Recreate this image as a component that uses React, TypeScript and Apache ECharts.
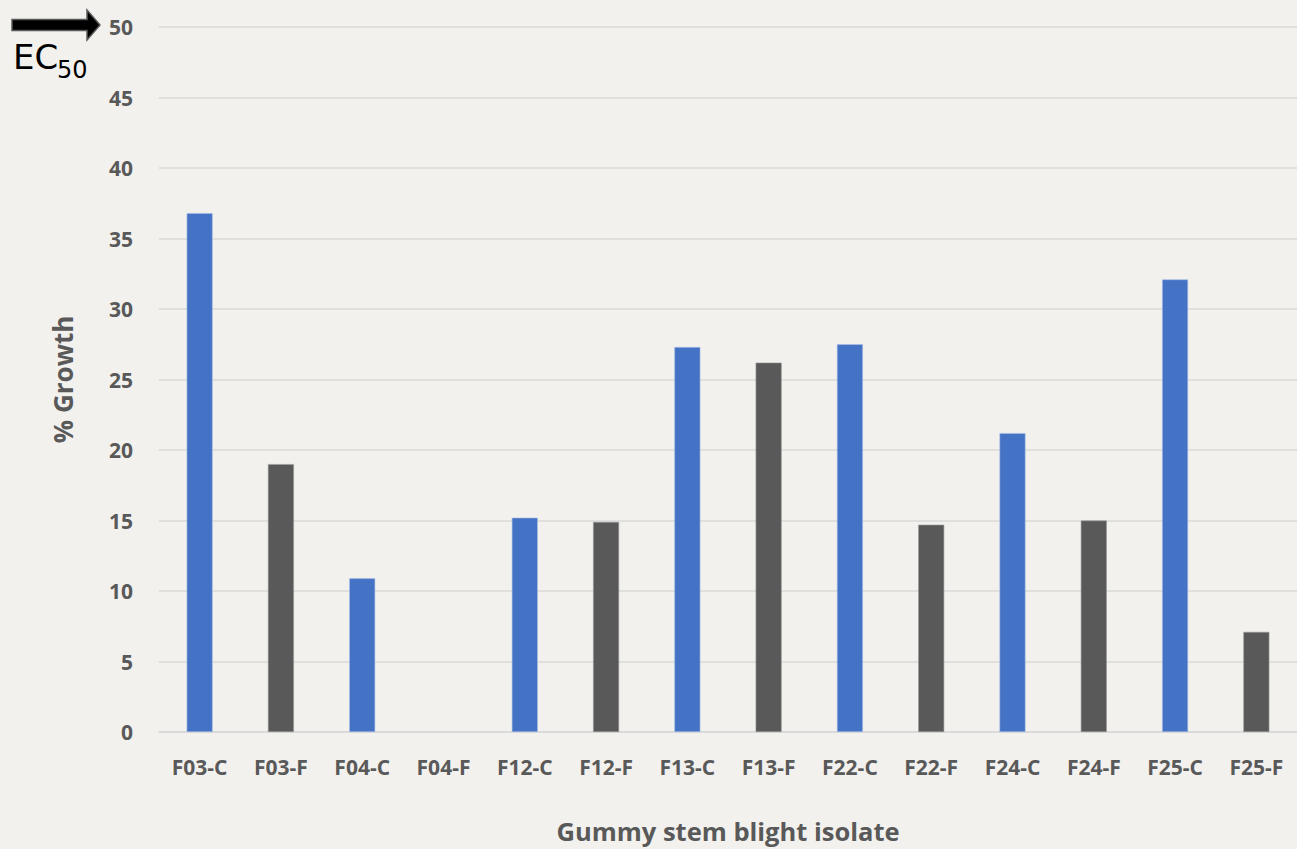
import React, { useEffect, useRef } from "react";
import * as echarts from "echarts";

const categories = ["F03-C", "F03-F", "F04-C", "F04-F", "F12-C", "F12-F", "F13-C", "F13-F", "F22-C", "F22-F", "F24-C", "F24-F", "F25-C", "F25-F"];
const growth = [36.8, 19.0, 10.9, 0, 15.2, 14.9, 27.3, 26.2, 27.5, 14.7, 21.2, 15.0, 32.1, 7.1];
const isControl = [true, false, true, false, true, false, true, false, true, false, true, false, true, false];
const yTicks = { min: 0, max: 50, interval: 5 };

const BLUE = "#4472C4";
const GRAY = "#595959";
const TEXT = "#595959";
const FONT = "'Open Sans', sans-serif";

export default function App() {
  const ref = useRef<HTMLDivElement>(null);
  useEffect(() => {
    document.body.style.margin = "0";
    const chart = echarts.init(ref.current!, null, { renderer: "svg" });
    chart.setOption({
      animation: false,
      backgroundColor: "#F2F1EE",
      grid: { left: 159, top: 27, width: 1143, height: 707, containLabel: false },
      xAxis: {
        type: "category",
        data: categories,
        name: "Gummy stem blight isolate",
        nameLocation: "middle",
        nameGap: 86,
        nameTextStyle: { color: TEXT, fontFamily: FONT, fontWeight: "bold", fontSize: 25.5 },
        axisLine: { lineStyle: { color: "#D9D9D9", width: 1.5 } },
        axisTick: { show: false },
        axisLabel: { color: TEXT, fontFamily: FONT, fontWeight: "bold", fontSize: 21, margin: 24 },
      },
      yAxis: {
        type: "value",
        min: yTicks.min,
        max: yTicks.max,
        interval: yTicks.interval,
        name: "% Growth",
        nameLocation: "middle",
        nameGap: 83,
        nameRotate: 90,
        nameTextStyle: { color: TEXT, fontFamily: FONT, fontWeight: "bold", fontSize: 26 },
        axisLine: { show: false },
        axisTick: { show: false },
        axisLabel: { color: TEXT, fontFamily: FONT, fontWeight: "bold", fontSize: 21, margin: 26 },
        splitLine: { lineStyle: { color: "#D9D9D9", width: 1.5 } },
      },
      series: [
        {
          type: "bar",
          barWidth: 26,
          data: growth.map((v, i) => ({
            value: v,
            itemStyle: {
              color: isControl[i] ? BLUE : GRAY,
              borderColor: isControl[i] ? "#A9BEE6" : "#9A9A9A",
              borderWidth: v > 0 ? 0.6 : 0,
            },
          })),
        },
      ],
      graphic: [
        {
          type: "polygon",
          shape: {
            points: [
              [12, 19.5],
              [87, 19.5],
              [87, 10],
              [100, 25],
              [87, 40],
              [87, 30.5],
              [12, 30.5],
            ],
          },
          style: { fill: "#000", stroke: "#5a5a5a", lineWidth: 1.5 },
        },
        {
          type: "text",
          x: 13,
          y: 40,
          style: { text: "EC", fill: "#000", font: "34px 'DejaVu Sans', sans-serif" },
        },
        {
          type: "text",
          x: 57,
          y: 58,
          style: { text: "50", fill: "#000", font: "24px 'DejaVu Sans', sans-serif" },
        },
      ],
    });
    return () => chart.dispose();
  }, []);
  return <div ref={ref} style={{ width: 1297, height: 849 }} />;
}
